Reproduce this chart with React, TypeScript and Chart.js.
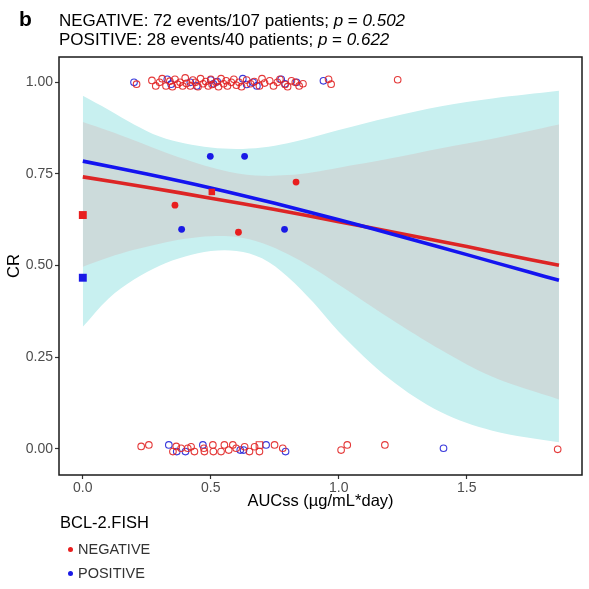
import React, { useEffect, useRef } from 'react';
import { Chart, registerables } from 'chart.js';

Chart.register(...registerables);

const FONT = "'Liberation Sans', Arial, Helvetica, sans-serif";

// Axis ticks
const xTickValues = [0, 0.5, 1.0, 1.5];
const xTickLabels = ['0.0', '0.5', '1.0', '1.5'];
const yTickValues = [0, 0.25, 0.5, 0.75, 1.0];
const yTickLabels = ['0.00', '0.25', '0.50', '0.75', '1.00'];

// Fitted logistic curves
const fitX = [0, 0.25, 0.5, 0.75, 1.0, 1.25, 1.5, 1.75, 1.86];
const negativeFit = [0.742, 0.714, 0.684, 0.653, 0.62, 0.586, 0.552, 0.516, 0.501];
const positiveFit = [0.785, 0.75, 0.712, 0.67, 0.625, 0.578, 0.53, 0.481, 0.46];

// Confidence ribbons
const ribbonX = [0, 0.1, 0.2, 0.3, 0.4, 0.5, 0.6, 0.7, 0.8, 0.9, 1.0, 1.2, 1.4, 1.6, 1.86];
const positiveUpper = [0.963, 0.925, 0.885, 0.852, 0.833, 0.822, 0.818, 0.822, 0.834, 0.851, 0.87, 0.905, 0.935, 0.956, 0.977];
const positiveLower = [0.333, 0.41, 0.462, 0.5, 0.525, 0.54, 0.54, 0.52, 0.47, 0.4, 0.32, 0.19, 0.1, 0.05, 0.018];
const negativeUpper = [0.892, 0.868, 0.842, 0.815, 0.79, 0.768, 0.752, 0.745, 0.747, 0.755, 0.767, 0.792, 0.82, 0.846, 0.885];
const negativeLower = [0.497, 0.522, 0.543, 0.56, 0.573, 0.58, 0.578, 0.562, 0.532, 0.493, 0.448, 0.356, 0.27, 0.197, 0.135];

// Individual patients (jittered) - CR = 1
const topNegX = [0.21, 0.27, 0.285, 0.3, 0.31, 0.325, 0.34, 0.35, 0.36, 0.37, 0.38, 0.39, 0.4, 0.405, 0.42, 0.43, 0.44, 0.45, 0.46, 0.47, 0.48, 0.49, 0.5, 0.505, 0.52, 0.53, 0.54, 0.55, 0.56, 0.565, 0.58, 0.59, 0.6, 0.61, 0.62, 0.64, 0.655, 0.67, 0.69, 0.7, 0.71, 0.73, 0.745, 0.76, 0.77, 0.79, 0.8, 0.815, 0.83, 0.845, 0.86, 0.96, 0.97, 1.23];
const topNegY = [0.995, 1.005, 0.99, 1.0, 1.01, 0.99, 1.003, 0.988, 1.008, 0.995, 1.0, 0.99, 1.012, 0.997, 0.99, 1.006, 1.0, 0.988, 1.01, 0.996, 1.002, 0.99, 1.008, 0.994, 1.0, 0.988, 1.01, 0.996, 1.004, 0.99, 1.0, 1.008, 0.992, 1.0, 0.988, 1.006, 0.996, 1.002, 0.99, 1.01, 0.998, 1.004, 0.99, 1.0, 1.008, 0.994, 0.988, 1.004, 1.0, 0.99, 0.996, 1.008, 0.995, 1.007];
const topPosX = [0.2, 0.33, 0.345, 0.42, 0.445, 0.5, 0.51, 0.525, 0.625, 0.64, 0.665, 0.68, 0.775, 0.79, 0.835, 0.94];
const topPosY = [1.0, 1.008, 0.995, 1.0, 0.99, 1.006, 0.996, 1.002, 1.01, 0.994, 1.0, 0.99, 1.008, 0.996, 1.0, 1.004];

// Individual patients (jittered) - CR = 0
const botNegX = [0.228, 0.258, 0.352, 0.365, 0.384, 0.41, 0.423, 0.436, 0.473, 0.475, 0.508, 0.51, 0.54, 0.553, 0.57, 0.586, 0.599, 0.632, 0.651, 0.671, 0.69, 0.749, 0.781, 1.009, 1.033, 1.18, 1.855];
const botNegY = [0.007, 0.011, -0.007, 0.007, 0.002, 0.002, 0.006, -0.007, 0.002, -0.007, 0.011, -0.007, -0.007, 0.011, -0.003, 0.011, 0.002, 0.006, -0.007, 0.006, -0.007, 0.011, 0.002, -0.003, 0.011, 0.011, -0.001];
const botNegSqX = [0.69];
const botNegSqY = [0.011];
const botPosX = [0.336, 0.367, 0.401, 0.469, 0.615, 0.628, 0.716, 0.792, 1.409];
const botPosY = [0.011, -0.007, -0.007, 0.011, -0.003, -0.003, 0.011, -0.007, 0.002];

// Binned proportions
const negBinX = [0.36, 0.608, 0.833];
const negBinY = [0.665, 0.591, 0.728];
const negSqX = [0, 0.504];
const negSqY = [0.638, 0.701];
const posBinX = [0.386, 0.498, 0.632, 0.788];
const posBinY = [0.599, 0.798, 0.798, 0.599];
const posSqX = [0];
const posSqY = [0.467];

const RED = '#e81e1e';
const BLUE = '#1a1ae6';
const RED_LINE = '#dd2525';
const BLUE_LINE = '#1414f0';
const CYAN = '#c8f0f0';
const GRAY = '#ccdbdb';

const pts = (xs: number[], ys: number[]) => xs.map((x, i) => ({ x, y: ys[i] }));

const borderPlugin = {
  id: 'panelBorder',
  afterDraw(chart: any) {
    const { ctx, chartArea: a } = chart;
    ctx.save();
    ctx.strokeStyle = '#1a1a1a';
    ctx.lineWidth = 1.5;
    ctx.strokeRect(a.left, a.top, a.right - a.left, a.bottom - a.top);
    ctx.restore();
  },
};

export default function App() {
  const ref = useRef<HTMLCanvasElement | null>(null);

  useEffect(() => {
    if (!ref.current) return;
    const ribbon = (ys: number[], color: string, fill: any, order: number) => ({
      data: pts(ribbonX, ys),
      showLine: true,
      fill,
      backgroundColor: color,
      borderColor: 'transparent',
      borderWidth: 0,
      pointRadius: 0,
      tension: 0.35,
      order,
    });
    const fitLine = (ys: number[], color: string, order: number) => ({
      data: pts(fitX, ys),
      showLine: true,
      fill: false,
      borderColor: color,
      borderWidth: 3.6,
      pointRadius: 0,
      tension: 0.3,
      order,
    });
    const openPts = (data: any[], color: string, style: string, r: number) => ({
      data,
      pointStyle: style,
      pointRadius: r,
      pointBorderWidth: 1.1,
      pointBorderColor: color,
      pointBackgroundColor: 'rgba(0,0,0,0)',
      borderColor: color,
      backgroundColor: 'rgba(0,0,0,0)',
      order: 0,
    });
    const filledPts = (data: any[], color: string, style: string, r: any) => ({
      data,
      pointStyle: style,
      pointRadius: r,
      pointBorderWidth: 0,
      pointBorderColor: color,
      pointBackgroundColor: color,
      borderColor: color,
      backgroundColor: color,
      order: 0,
    });

    const chart = new Chart(ref.current, {
      type: 'scatter',
      data: {
        datasets: [
          ribbon(positiveUpper, CYAN, '+1', 6),
          ribbon(positiveLower, CYAN, false, 6),
          ribbon(negativeUpper, GRAY, '+1', 5),
          ribbon(negativeLower, GRAY, false, 5),
          fitLine(negativeFit, RED_LINE, 4),
          fitLine(positiveFit, BLUE_LINE, 3),
          openPts(pts(topNegX, topNegY).concat(pts(botNegX, botNegY)), 'rgba(225,35,35,0.9)', 'circle', 3.3),
          openPts(pts(botNegSqX, botNegSqY), 'rgba(225,35,35,0.9)', 'rect', 4.6),
          openPts(pts(topPosX, topPosY).concat(pts(botPosX, botPosY)), 'rgba(35,35,215,0.9)', 'circle', 3.3),
          filledPts(pts(negBinX, negBinY), RED, 'circle', 3.4),
          filledPts(pts(negSqX, negSqY), RED, 'rect', [5.6, 4.6]),
          filledPts(pts(posBinX, posBinY), BLUE, 'circle', 3.4),
          filledPts(pts(posSqX, posSqY), BLUE, 'rect', 5.6),
        ] as any,
      },
      plugins: [borderPlugin],
      options: {
        animation: false,
        responsive: false,
        devicePixelRatio: 1,
        events: [],
        layout: { padding: { left: 0, top: 57, right: 7, bottom: 78 } },
        plugins: { legend: { display: false }, tooltip: { enabled: false } },
        scales: {
          x: {
            type: 'linear',
            min: -0.093,
            max: 1.95,
            afterBuildTicks: (s: any) => {
              s.ticks = xTickValues.map((v) => ({ value: v }));
            },
            afterFit: (s: any) => {
              s.height = 36;
              s.paddingLeft = 0;
              s.paddingRight = 0;
            },
            ticks: {
              autoSkip: false,
              maxRotation: 0,
              padding: 1,
              color: '#4d4d4d',
              font: { family: FONT, size: 14 },
              callback: (_v: any, i: number) => xTickLabels[i],
            },
            grid: { drawOnChartArea: false, drawTicks: true, tickLength: 4, tickColor: '#333333', tickWidth: 1.2 },
            border: { display: false },
            title: { display: true, text: 'AUCss (µg/mL*day)', color: '#000', font: { family: FONT, size: 16.5 }, padding: 0 },
          },
          y: {
            type: 'linear',
            min: -0.071,
            max: 1.069,
            afterBuildTicks: (s: any) => {
              s.ticks = yTickValues.map((v) => ({ value: v }));
            },
            afterFit: (s: any) => {
              s.width = 59;
              s.paddingTop = 0;
              s.paddingBottom = 0;
            },
            ticks: {
              autoSkip: false,
              padding: 2,
              color: '#4d4d4d',
              font: { family: FONT, size: 14 },
              callback: (_v: any, i: number) => yTickLabels[i],
            },
            grid: { drawOnChartArea: false, drawTicks: true, tickLength: 4, tickColor: '#333333', tickWidth: 1.2 },
            border: { display: false },
            title: { display: true, text: 'CR', color: '#000', font: { family: FONT, size: 16.5 }, padding: { top: 5, bottom: 0 } },
          },
        },
      } as any,
    });
    return () => chart.destroy();
  }, []);

  const abs = (s: any) => ({ position: 'absolute', margin: 0, whiteSpace: 'nowrap', lineHeight: 1, fontFamily: FONT, ...s });

  return (
    <div style={{ position: 'fixed', left: 0, top: 0, width: 589, height: 589, background: '#fff', overflow: 'hidden' }}>
      <canvas ref={ref} width={589} height={589} style={{ position: 'absolute', left: 0, top: 0, width: 589, height: 589 }} />
      <div style={abs({ left: 19, top: 8, fontSize: 21, fontWeight: 'bold', color: '#000' })}>b</div>
      <div style={abs({ left: 59, top: 11.5, fontSize: 17, color: '#000' })}>
        NEGATIVE: 72 events/107 patients; <i>p</i> = <i>0.502</i>
      </div>
      <div style={abs({ left: 59, top: 30.5, fontSize: 17, color: '#000' })}>
        POSITIVE: 28 events/40 patients; <i>p</i> = <i>0.622</i>
      </div>
      <div style={abs({ left: 60, top: 514, fontSize: 16.5, color: '#000' })}>BCL-2.FISH</div>
      <div style={abs({ left: 67.5, top: 546.5, width: 5, height: 5, borderRadius: '50%', background: RED })} />
      <div style={abs({ left: 78, top: 542, fontSize: 14.5, color: '#333' })}>NEGATIVE</div>
      <div style={abs({ left: 67.5, top: 570.5, width: 5, height: 5, borderRadius: '50%', background: BLUE })} />
      <div style={abs({ left: 78, top: 566, fontSize: 14.5, color: '#333' })}>POSITIVE</div>
    </div>
  );
}
